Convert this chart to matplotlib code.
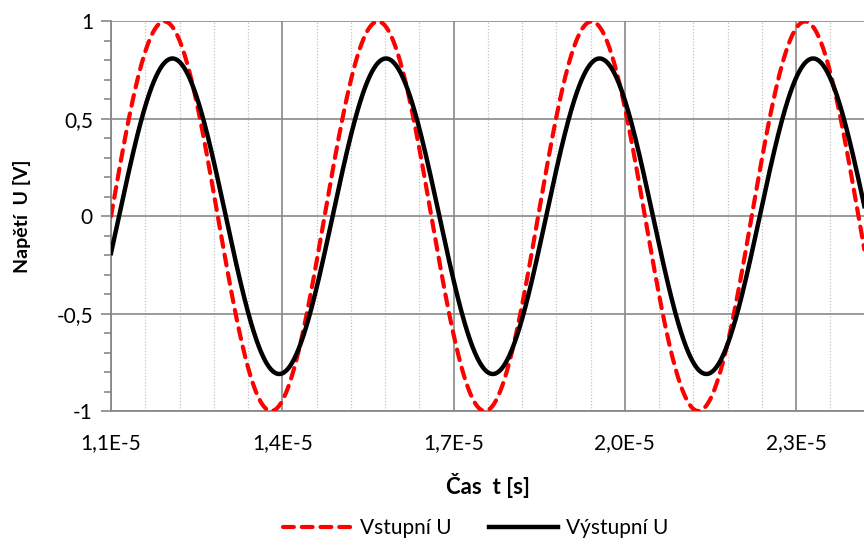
import numpy as np
import matplotlib
matplotlib.use("Agg")
import matplotlib.pyplot as plt
from matplotlib.ticker import MultipleLocator, FixedLocator, FuncFormatter

plt.rcParams['font.family'] = ['Lato', 'DejaVu Sans']

# Signal description (sinusoidal input and filtered output)
series_names = ["Vstupní U", "Výstupní U"]
amplitudes_v = [1.00, 0.81]          # peak voltage [V]
phase_deg = [0.0, -13.5]             # phase relative to t = 1.1E-5 s
frequency_hz = 267.3e3               # signal frequency
series_colors = ["#FF0000", "#000000"]

# Time window of the record
t_start, t_end = 1.1e-5, 2.45e-5
x_ticks = [1.1e-5, 1.4e-5, 1.7e-5, 2.0e-5, 2.3e-5]
y_ticks = [-1.0, -0.5, 0.0, 0.5, 1.0]
x_minor_step = 0.6e-6

t = np.linspace(t_start, t_end, 2000)
signals = [a * np.sin(2 * np.pi * frequency_hz * (t - t_start) + np.deg2rad(p))
           for a, p in zip(amplitudes_v, phase_deg)]

fig = plt.figure(figsize=(8.64, 5.48), dpi=100)
ax = fig.add_axes([0.1285, 0.25, 1.0 - 0.1285, 0.9608 - 0.25])

grid_c = "#898989"
x_max = 2.419e-5
ax.set_xlim(t_start, x_max)
ax.set_ylim(-1, 1)

minor_x = [t_start + k * x_minor_step for k in range(int((x_max - t_start) / x_minor_step) + 1)]
ax.xaxis.set_major_locator(FixedLocator(x_ticks))
ax.xaxis.set_minor_locator(FixedLocator(minor_x))
ax.yaxis.set_major_locator(FixedLocator(y_ticks))
ax.yaxis.set_minor_locator(MultipleLocator(0.1))

ax.grid(which="minor", axis="x", color="#c4c4c4", lw=0.9, ls=(0, (1, 1.5)), zorder=0)
ax.grid(which="major", axis="both", color=grid_c, lw=1.2, zorder=1)

def fmt_x(v, pos):
    m, e = f"{v:.1E}".split("E")
    return f"{m.replace('.', ',')}E{int(e)}"

def fmt_y(v, pos):
    s = f"{v:g}".replace(".", ",")
    return "0" if s in ("-0", "0") else s

ax.xaxis.set_major_formatter(FuncFormatter(fmt_x))
ax.yaxis.set_major_formatter(FuncFormatter(fmt_y))

for side in ("top", "right"):
    ax.spines[side].set_visible(False)
for side in ("left", "bottom"):
    ax.spines[side].set_color(grid_c)
    ax.spines[side].set_linewidth(1.3)

ax.tick_params(axis="x", which="both", length=0, labelsize=15, pad=16, colors="black")
ax.tick_params(axis="y", which="major", length=7, width=1.2, color=grid_c, labelsize=15, pad=6)
ax.tick_params(axis="y", which="minor", length=5, width=1.2, color=grid_c)

ax.plot(t, signals[0], color=series_colors[0], lw=3.0, ls=(0, (2.6, 1.9)),
        dash_capstyle="round", label=series_names[0], zorder=3)
ax.plot(t, signals[1], color=series_colors[1], lw=3.2, label=series_names[1], zorder=4)

ax.set_xlabel("Čas  t [s]", fontsize=16, fontweight="bold", labelpad=14)
ax.set_ylabel("Napětí  U [V]", fontsize=14, fontweight="bold", labelpad=18)

leg = fig.legend(loc="center", bbox_to_anchor=(476 / 864, 1 - 528 / 548), ncol=2,
                 frameon=False, fontsize=15, handlelength=3.3, handletextpad=0.4,
                 columnspacing=1.8)

fig.savefig("out.png", dpi=100)
